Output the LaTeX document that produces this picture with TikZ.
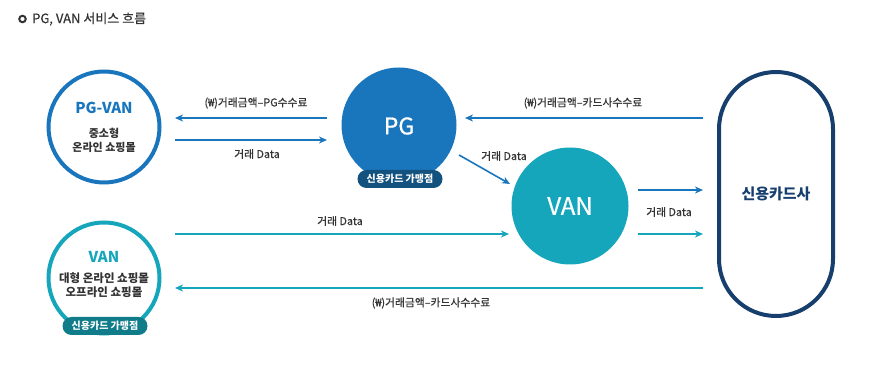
\documentclass[tikz,border=0pt]{standalone}
\usepackage{fontspec}
\setmainfont{Noto Sans CJK KR}
\newfontfamily\medfont{Noto Sans CJK KR}[FakeBold=0.6]
\usetikzlibrary{arrows.meta}
\definecolor{cblue}{HTML}{1A76BC}
\definecolor{cteal}{HTML}{16A6BB}
\definecolor{cnavy}{HTML}{163F6E}
\definecolor{cbadgeb}{HTML}{13517F}
\definecolor{cbadget}{HTML}{107C8A}
\definecolor{ctext}{HTML}{333333}
\tikzset{
  ring/.style={circle, line width=4pt, minimum size=111pt, inner sep=0pt},
  disc/.style={circle, minimum size=115pt, inner sep=0pt},
  badge/.style={rounded corners=9pt, minimum width=85pt, minimum height=18pt, inner sep=0pt,
     text=white, font=\fontsize{10}{11}\selectfont\bfseries},
  lbl/.style={text=ctext, font=\fontsize{10.8}{12}\selectfont\medfont, inner sep=0pt},
  arrb/.style={draw=cblue, line width=1.6pt, -{Stealth[length=8pt,width=7pt,inset=2.5pt]}},
  arrt/.style={draw=cteal, line width=1.6pt, -{Stealth[length=8pt,width=7pt,inset=2.5pt]}},
}
\begin{document}
\begin{tikzpicture}[x=1pt,y=-1pt]
\useasboundingbox (0,0) rectangle (873,371);
% title
\node[circle, draw=ctext, line width=2pt, minimum size=6.5pt, inner sep=0pt] (bullet) at (22.5,19) {};
\node[anchor=west, text=ctext, font=\fontsize{13}{15}\selectfont\medfont, inner sep=0pt] (title) at (32,19) {PG, VAN 서비스 흐름};

% PG-VAN ring
\node[ring, draw=cblue] (pgvan) at (104,127) {};
\node[text=cblue, font=\fontsize{15}{17}\selectfont\bfseries, inner sep=0pt] (pgvant) at (104,108) {PG-VAN};
\node[text=ctext, font=\fontsize{11}{14}\selectfont\bfseries, align=center, inner sep=0pt] (pgvand) at (104,140) {중소형\\온라인 쇼핑몰};

% VAN ring
\node[ring, draw=cteal] (van1) at (104,278) {};
\node[text=cteal, font=\fontsize{15}{17}\selectfont\bfseries, inner sep=0pt] (van1t) at (104,257) {VAN};
\node[text=ctext, font=\fontsize{11.5}{13.5}\selectfont\bfseries, align=center, inner sep=0pt] (van1d) at (104,285) {대형 온라인 쇼핑몰\\오프라인 쇼핑몰};
\node[badge, fill=cbadget] (badge1) at (105,326) {신용카드 가맹점};

% PG disc
\node[disc, fill=cblue] (pg) at (399,125) {};
\node[text=white, font=\fontsize{23}{26}\selectfont\medfont, inner sep=0pt] (pgt) at (399,126) {PG};
\node[badge, fill=cbadgeb] (badge2) at (400,179) {신용카드 가맹점};

% VAN disc
\node[disc, fill=cteal, minimum size=117pt] (van2) at (570,206) {};
\node[text=white, font=\fontsize{24}{27}\selectfont\medfont, inner sep=0pt] (van2t) at (570,206) {VAN};

% card company
\node[draw=cnavy, line width=4pt, rounded corners=57pt, minimum width=114pt, minimum height=244pt, inner sep=0pt] (card) at (776,194) {};
\node[text=cnavy, font=\fontsize{15}{17}\selectfont\bfseries, inner sep=0pt] (cardt) at (776,194) {신용카드사};

% coordinates for arrow ends
\coordinate (a1s) at (327,118); \coordinate (a1e) at (175,118);
\coordinate (a2s) at (175,140); \coordinate (a2e) at (327,140);
\coordinate (a3s) at (703,118); \coordinate (a3e) at (465,118);
\coordinate (a4s) at (459,155); \coordinate (a4e) at (510,184);
\coordinate (a5s) at (638,190); \coordinate (a5e) at (703,190);
\coordinate (a6s) at (638,234); \coordinate (a6e) at (703,234);
\coordinate (a7s) at (175,234); \coordinate (a7e) at (509,234);
\coordinate (a8s) at (703,288); \coordinate (a8e) at (175,288);

\draw[arrb] (a1s) -- (a1e);
\draw[arrb] (a2s) -- (a2e);
\draw[arrb] (a3s) -- (a3e);
\draw[arrb] (a4s) -- (a4e);
\draw[arrb] (a5s) -- (a5e);
\draw[arrt] (a6s) -- (a6e);
\draw[arrt] (a7s) -- (a7e);
\draw[arrt] (a8s) -- (a8e);

\node[lbl] (l1) at (256,103) {(₩)거래금액–PG수수료};
\node[lbl] (l2) at (257,154) {거래 Data};
\node[lbl] (l3) at (583,103) {(₩)거래금액–카드사수수료};
\node[lbl] (l4) at (504,156) {거래 Data};
\node[lbl] (l5) at (669,212) {거래 Data};
\node[lbl] (l6) at (340,221) {거래 Data};
\node[lbl] (l7) at (431,303) {(₩)거래금액–카드사수수료};
\end{tikzpicture}
\end{document}
